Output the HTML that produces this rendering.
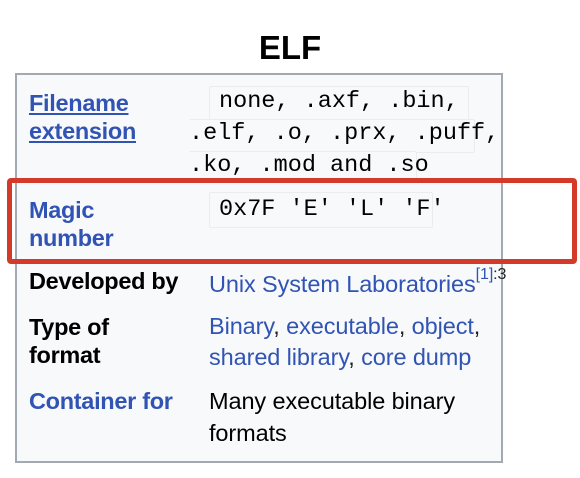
<!DOCTYPE html>
<html><head><style>
body{margin:0;width:580px;height:478px;background:#fff;position:relative;font-family:"Liberation Sans",Arial,sans-serif;overflow:hidden}
.a{position:absolute;white-space:nowrap}
.t{font-size:33px;font-weight:bold;left:0;width:580px;text-align:center;top:29px}
.box{position:absolute;left:15px;top:73px;width:484px;height:386px;border:2px solid #a2a9b1;background:#f8f9fa}
.l{font-size:23.5px;font-weight:bold;line-height:28px;left:29px;letter-spacing:-0.3px}
.v{font-size:23.5px;line-height:32px;left:209px;color:#202122;letter-spacing:-0.1px}
.b{color:#3154b4}
.u{text-decoration:underline}
.m{font-family:"Liberation Mono",monospace;font-size:23.5px;color:#000}
.code{position:absolute;background:#f8f9fa;border:1px solid #eaecf0;border-radius:2px}
.red{position:absolute;left:7px;top:178px;width:560px;height:76px;border:5px solid #d43a2a;border-radius:4px}
sup{font-size:16px;line-height:0;position:relative;top:-4px}
</style></head><body>
<div class="a t">ELF</div>
<div class="box"></div>
<div class="code" style="left:209px;top:86px;width:258px;height:33px"></div>
<div class="code" style="left:189px;top:119px;width:285px;height:32px;border-left:none"></div>
<div class="code" style="left:189px;top:151px;width:227px;height:30px;border-left:none"></div>
<div class="a l b u" style="top:89px">Filename<br>extension</div>
<div class="a m" style="left:219px;top:88px">none, .axf, .bin,</div>
<div class="a m" style="left:189px;top:120px;width:290px">.elf, .o, .prx, .puff,</div>
<div class="a m" style="left:189px;top:152px">.ko, .mod and .so</div>
<div class="code" style="left:209px;top:192px;width:222px;height:34px"></div>
<div class="a l b" style="top:196px">Magic<br>number</div>
<div class="a m" style="left:219px;top:196px">0x7F 'E' 'L' 'F'</div>
<div class="red"></div>
<div class="a l" style="top:267px">Developed by</div>
<div class="a v" style="top:268px"><span class="b">Unix System Laboratories</span><sup class="b">[1]</sup><sup>:3</sup></div>
<div class="a l" style="top:313px">Type of<br>format</div>
<div class="a v" style="top:311px;line-height:31px"><span class="b">Binary</span>, <span class="b">executable</span>, <span class="b">object</span>,<br><span class="b">shared library</span>, <span class="b">core dump</span></div>
<div class="a l b" style="top:387px">Container for</div>
<div class="a v" style="top:385px;line-height:32px;color:#000">Many executable binary<br>formats</div>
</body></html>
